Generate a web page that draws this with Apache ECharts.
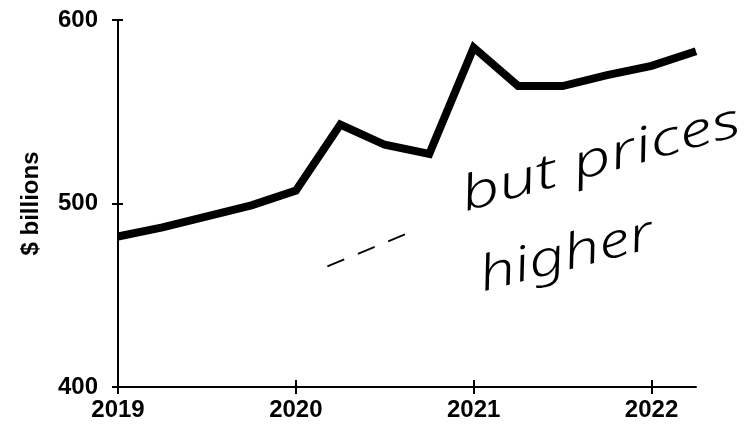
<!DOCTYPE html>
<html>
<head>
<meta charset="utf-8">
<script src="https://cdn.jsdelivr.net/npm/echarts@6/dist/echarts.min.js"></script>
<style>
html,body{margin:0;padding:0;background:#fff;}
#chart{width:750px;height:434px;}
</style>
</head>
<body>
<div id="chart"></div>
<script>
// Quarterly categories
const quarters = ['2019 Q1','2019 Q2','2019 Q3','2019 Q4',
                  '2020 Q1','2020 Q2','2020 Q3','2020 Q4',
                  '2021 Q1','2021 Q2','2021 Q3','2021 Q4',
                  '2022 Q1','2022 Q2'];
// Values, $ billions
const values = [482, 487, 493, 499, 507, 543, 532, 527, 585, 564, 564, 570, 575, 583];
// Y axis range / ticks
const yMin = 400, yMax = 600, yStep = 100;
// Annotation texts
const noteLine1 = 'but prices';
const noteLine2 = 'higher';
const noteDash = '– – –';

const chart = echarts.init(document.getElementById('chart'), null, {renderer:'canvas'});
const labelFont = {fontFamily:'Liberation Sans, Arial, sans-serif', fontWeight:'bold', fontSize:24, color:'#000'};
const handFont = "italic 300 48px 'Noto Sans', 'DejaVu Sans', sans-serif";

chart.setOption({
  animation:false,
  backgroundColor:'#fff',
  grid:{left:118, right:54, top:20, bottom:47},
  xAxis:[{
    type:'category', data:quarters, boundaryGap:false,
    axisLine:{lineStyle:{color:'#000', width:2}},
    axisTick:{interval:3, length:7, lineStyle:{color:'#000', width:2}},
    axisLabel:Object.assign({interval:3, margin:11, formatter:v=>v.slice(0,4)}, labelFont),
    splitLine:{show:false}
  },{
    type:'category', data:quarters, boundaryGap:false, position:'bottom',
    axisLine:{show:false},
    axisTick:{interval:3, inside:true, length:7, lineStyle:{color:'#000', width:2}},
    axisLabel:{show:false},
    splitLine:{show:false}
  }],
  yAxis:[{
    type:'value', min:yMin, max:yMax, interval:yStep,
    name:'$ billions', nameLocation:'middle', nameGap:75, nameRotate:90,
    nameTextStyle:{fontFamily:'Liberation Sans, Arial, sans-serif', fontWeight:'bold', fontSize:24, color:'#000'},
    axisLine:{show:true, lineStyle:{color:'#000', width:2}},
    axisTick:{show:true, length:6, lineStyle:{color:'#000', width:2}},
    axisLabel:Object.assign({margin:20}, labelFont),
    splitLine:{show:false}
  },{
    type:'value', min:yMin, max:yMax, interval:yStep, position:'left',
    axisLine:{show:false},
    axisTick:{show:true, inside:true, length:5, lineStyle:{color:'#000', width:2}},
    axisLabel:{show:false},
    splitLine:{show:false}
  }],
  series:[{
    type:'line', data:values, xAxisIndex:0, yAxisIndex:0,
    showSymbol:false, symbol:'none',
    lineStyle:{color:'#000', width:8, join:'miter'}
  }],
  graphic:[
    {type:'text', x:462, y:198, rotation:0.27, scaleX:1.4,
     style:{text:noteLine1, font:handFont, fill:'#000', align:'left', verticalAlign:'middle'}},
    {type:'text', x:480, y:278, rotation:0.25, scaleX:1.32,
     style:{text:noteLine2, font:handFont, fill:'#000', align:'left', verticalAlign:'middle'}},
    {type:'text', x:366, y:250, rotation:0.39, scaleX:1.2,
     style:{text:noteDash, font:"300 36px 'Noto Sans', sans-serif", fill:'#000', align:'center', verticalAlign:'middle'}}
  ]
});
</script>
</body>
</html>
